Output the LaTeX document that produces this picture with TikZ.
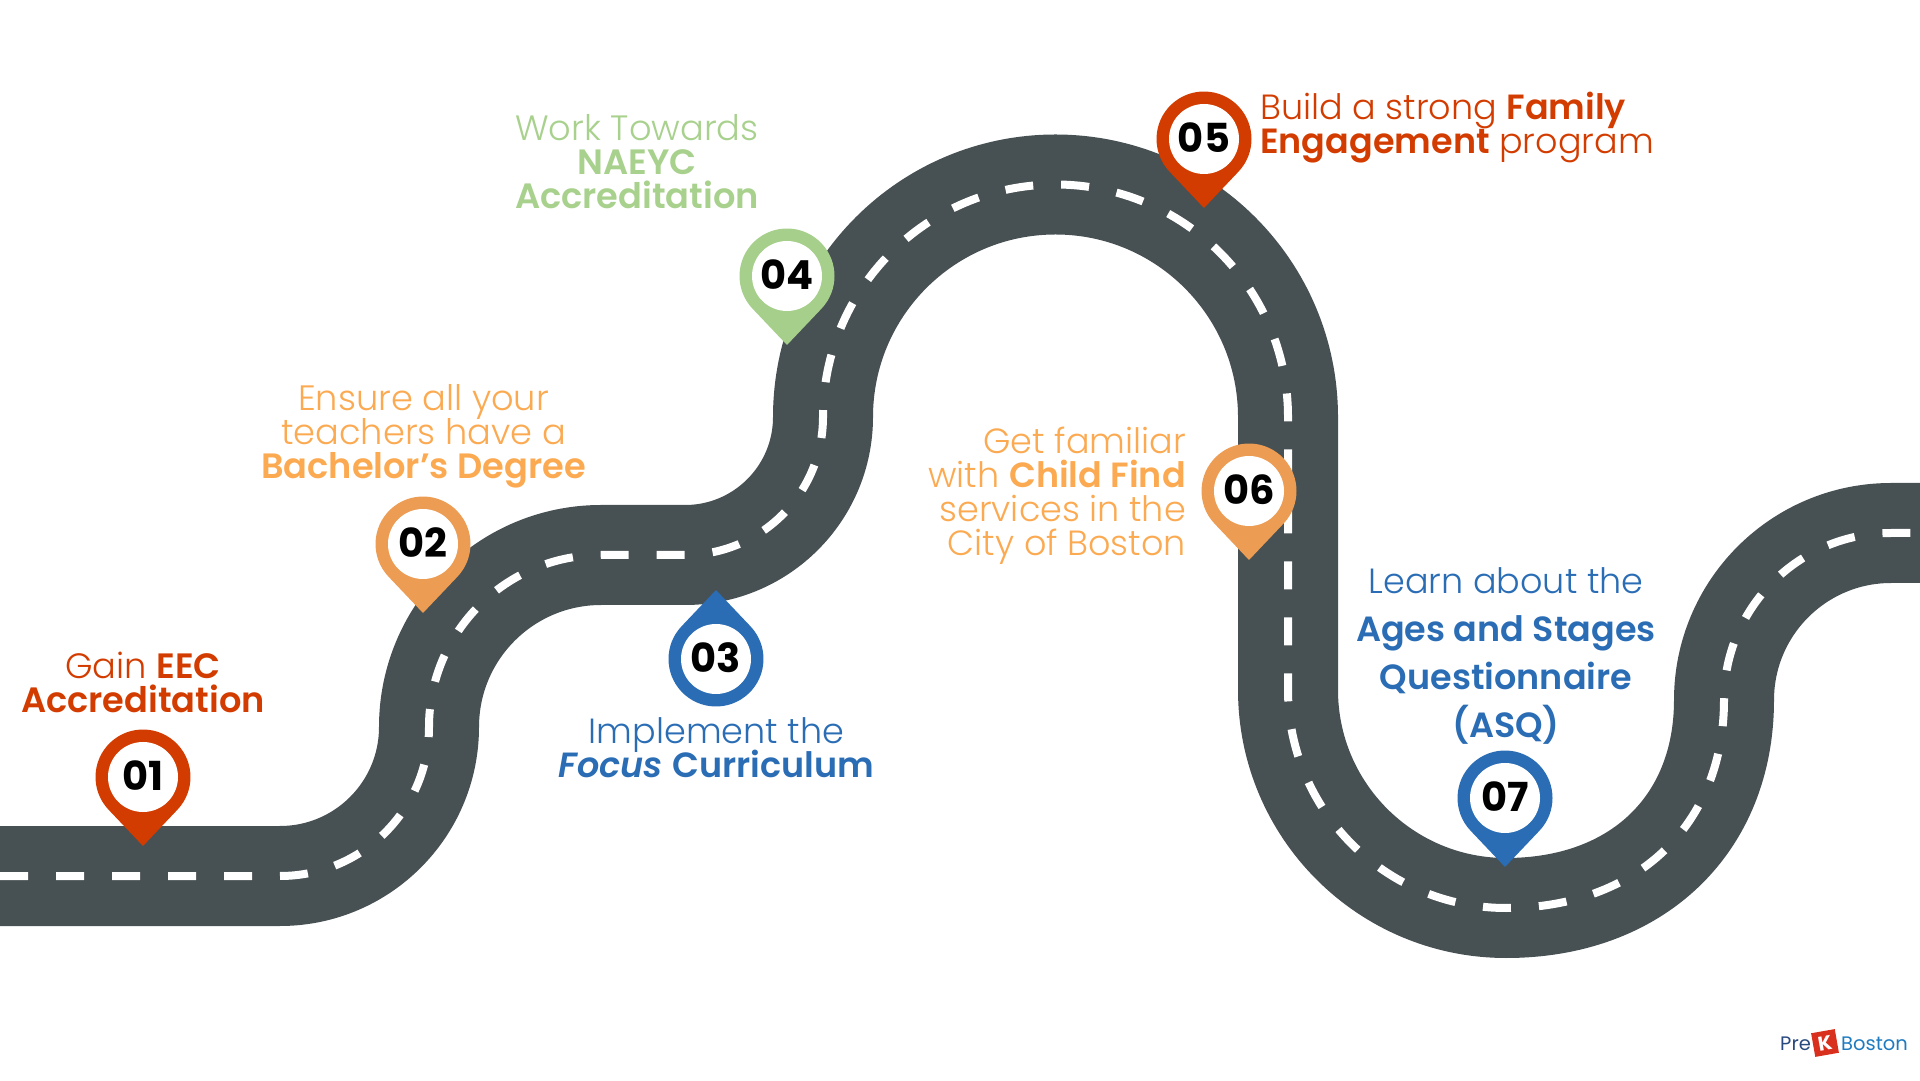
\documentclass[tikz,border=0pt]{standalone}
\usepackage{fontspec}
\setmainfont{Poppins}
\newfontfamily\plight{Poppins Light}
\newfontfamily\logofont{Poppins}
\normallineskiplimit=-100pt
\definecolor{roadc}{HTML}{475052}
\definecolor{redc}{HTML}{D33C00}
\definecolor{orgpin}{HTML}{EC9C53}
\definecolor{orgtxt}{HTML}{FBAA52}
\definecolor{grnpin}{HTML}{A6CF8B}
\definecolor{grntxt}{HTML}{A9D18E}
\definecolor{blu}{HTML}{2A6DB5}
\definecolor{logoblue}{HTML}{1F7BC0}
\definecolor{logonavy}{HTML}{2A4A7F}
\definecolor{logored}{HTML}{D9301E}
\tikzset{
  x=1pt,y=1pt,
  road/.style={line width=100pt,draw=roadc,line join=round},
  lane/.style={line width=8pt,draw=white,dash pattern=on 28pt off 28pt},
  numnode/.style={circle,inner sep=0pt,text=black,font=\fontsize{40}{40}\selectfont\bfseries},
  lbl/.style={inner sep=0pt,align=center,font=\fontsize{35.2}{34}\selectfont\plight},
  lblb/.style={lbl,font=\fontsize{35}{34}\selectfont\plight},
}
% name, x, y, colour, number, rotation
\newcommand{\mypin}[6]{%
  \fill[#4,shift={(#2,#3)},rotate=#6] (0,-69) -- (223.5:47.5) arc[start angle=223.5,end angle=-43.5,radius=47.5] -- cycle;
  \fill[white] (#2,#3) circle[radius=35];
  \node[numnode] (#1) at (#2,#3+1) {#5};
}
\newcommand{\fr}{\rule{0pt}{30pt}}
\begin{document}
\begin{tikzpicture}
\lineskiplimit=-100pt\relax
\useasboundingbox (0,0) rectangle (1920,1080);
\path[clip] (0,0) rectangle (1920,1080);
\def\roadpath{(0,204) -- (280,204) arc[start angle=-90,end angle=0,radius=149]
  arc[start angle=180,end angle=90,radius=172] -- (685,525)
  arc[start angle=-90,end angle=0,radius=138]
  arc[start angle=180,end angle=0,radius=232.5] -- (1288,390)
  arc[start angle=180,end angle=270,radius=218]
  .. controls (1636.8,172) and (1724,255.2) .. (1724,380)
  arc[start angle=180,end angle=90,radius=167] -- (1920,547)}
\draw[road] \roadpath;
\draw[lane] \roadpath;

\mypin{p1}{143}{303}{redc}{01}{0}
\mypin{p2}{423}{536}{orgpin}{02}{0}
\mypin{p3}{716}{421}{blu}{03}{180}
\mypin{p4}{787}{804}{grnpin}{04}{0}
\mypin{p5}{1204}{941}{redc}{05}{0}
\mypin{p6}{1249}{589}{orgpin}{06}{0}
\mypin{p7}{1505}{282}{blu}{07}{0}

\node[lbl,text=redc,anchor=north] (t1) at (143,431.5) {\fr Gain {\bfseries EEC}\\{\bfseries Accreditation}};
\node[lbl,text=orgtxt,anchor=north] (t2) at (423.5,700) {\fr Ensure all your\\teachers have a\\{\bfseries Bachelor’s Degree}};
\node[lblb,text=blu,anchor=north] (t3) at (716.5,366.5) {\fr Implement the\\{\bfseries\itshape Focus} {\bfseries Curriculum}};
\node[lbl,text=grntxt,anchor=north] (t4) at (637,970) {\fr Work Towards\\{\bfseries NAEYC}\\{\bfseries Accreditation}};
\node[lblb,text=redc,anchor=north west,align=left] (t5) at (1260,990.5) {\fr Build a strong {\bfseries Family}\\{\bfseries Engagement} program};
\node[lblb,text=orgtxt,anchor=north east,align=right] (t6) at (1186,657) {\fr Get familiar\\with {\bfseries Child Find}\\services in the\\City of Boston};
\node[lbl,text=blu,anchor=north,font=\fontsize{35}{48}\selectfont\plight] (t7) at (1506,517) {\fr Learn about the\\{\bfseries Ages and Stages}\\{\bfseries Questionnaire}\\{\bfseries (ASQ)}};

% logo
\node[inner sep=0pt,anchor=base west,text=logonavy,font=\fontsize{19.5}{20}\selectfont\logofont] (lg1) at (1780,30) {Pre};
\node[rotate=10,fill=logored,minimum size=24pt,inner sep=0pt,text=white,font=\fontsize{20}{20}\selectfont\logofont\bfseries] (lg2) at (1825,37) {K};
\node[inner sep=0pt,anchor=base west,text=logoblue,font=\fontsize{19.5}{20}\selectfont\logofont] (lg3) at (1841,30) {Boston};
\end{tikzpicture}
\end{document}
